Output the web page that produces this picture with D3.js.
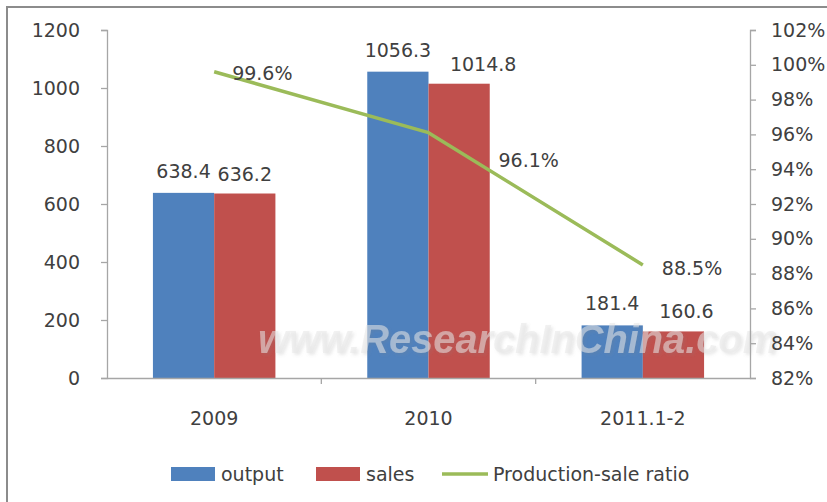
<!DOCTYPE html>
<html>
<head>
<meta charset="utf-8">
<script src="https://cdn.jsdelivr.net/npm/d3@7"></script>
<style>
  body { margin: 0; background: #fff; }
  text { font-family: "DejaVu Sans", sans-serif; fill: #404040; }
</style>
</head>
<body>
<script>
// chart values
var categories = ["2009", "2010", "2011.1-2"];
var output = [638.4, 1056.3, 181.4];
var sales = [636.2, 1014.8, 160.6];
var ratio = [99.6, 96.1, 88.5];
var leftTicks = [0, 200, 400, 600, 800, 1000, 1200];
var rightTicks = [82, 84, 86, 88, 90, 92, 94, 96, 98, 100, 102];
var seriesNames = ["output", "sales", "Production-sale ratio"];

var W = 827, H = 502;
var plot = {left: 107, right: 750, top: 30, bottom: 378};
var blue = "#4F81BD", red = "#C0504D", green = "#9BBB59", axisCol = "#a6a6a6";

var svg = d3.select("body").append("svg")
    .attr("width", W)
    .attr("height", H);

// outer frame
svg.append("rect")
    .attr("x", 7).attr("y", 7)
    .attr("width", 840).attr("height", 520)
    .attr("fill", "#fff")
    .attr("stroke", "#8c8c8c")
    .attr("stroke-width", 2);

// scales
var x = d3.scaleBand()
    .domain(categories)
    .range([plot.left, plot.right]);
var xSeries = d3.scaleBand()
    .domain(["output", "sales"])
    .range([0, x.bandwidth()])
    .paddingOuter(0.75)
    .paddingInner(0);
var y = d3.scaleLinear()
    .domain([0, 1200])
    .range([plot.bottom, plot.top]);
var y2 = d3.scaleLinear()
    .domain([82, 102])
    .range([plot.bottom, plot.top]);

// bars
var barData = [];
var salesLabelDx = [0, 24, 13];   // labels nudged right like the original
categories.forEach(function(c, i) {
  barData.push({cat: c, key: "output", v: output[i], color: blue, dx: 0, dy: -15});
  barData.push({cat: c, key: "sales", v: sales[i], color: red, dx: salesLabelDx[i], dy: -13});
});

svg.selectAll(".bar")
    .data(barData)
    .enter().append("rect")
    .attr("class", "bar")
    .attr("x", function(d) { return x(d.cat) + xSeries(d.key); })
    .attr("width", xSeries.bandwidth())
    .attr("y", function(d) { return y(d.v); })
    .attr("height", function(d) { return y(0) - y(d.v); })
    .attr("fill", function(d) { return d.color; });

svg.selectAll(".barLabel")
    .data(barData)
    .enter().append("text")
    .attr("class", "barLabel")
    .attr("x", function(d) { return x(d.cat) + xSeries(d.key) + xSeries.bandwidth() / 2 + d.dx; })
    .attr("y", function(d) { return y(d.v) + d.dy; })
    .attr("text-anchor", "middle")
    .style("font-size", "19px")
    .text(function(d) { return d.v.toFixed(1); });

// watermark
var defs = svg.append("defs");
var f = defs.append("filter").attr("id", "wm").attr("x", "-5%").attr("y", "-20%").attr("width", "110%").attr("height", "140%");
f.append("feDropShadow").attr("dx", 2).attr("dy", 2).attr("stdDeviation", 1.5)
    .attr("flood-color", "#808080").attr("flood-opacity", 0.3);
svg.append("text")
    .attr("x", 258).attr("y", 353)
    .attr("textLength", 520)
    .attr("lengthAdjust", "spacingAndGlyphs")
    .attr("filter", "url(#wm)")
    .style("font-family", "'Liberation Sans', Arial, sans-serif")
    .style("font-weight", "bold")
    .style("font-style", "italic")
    .style("font-size", "40px")
    .style("fill", "#e6e6e6")
    .style("fill-opacity", 0.55)
    .text("www.ResearchInChina.com");

// axes
var axisLeft = svg.append("g")
    .attr("transform", "translate(" + plot.left + ",0)")
    .call(d3.axisLeft(y).tickValues(leftTicks).tickSize(6).tickPadding(21)
      .tickFormat(d3.format("d")));
var axisRight = svg.append("g")
    .attr("transform", "translate(" + plot.right + ",0)")
    .call(d3.axisRight(y2).tickValues(rightTicks).tickSize(6).tickPadding(15)
      .tickFormat(function(d) { return d + "%"; }));
var axisBottom = svg.append("g")
    .attr("transform", "translate(0," + plot.bottom + ")")
    .call(d3.axisBottom(x).tickSize(0).tickPadding(34));

[axisLeft, axisRight, axisBottom].forEach(function(g) {
  g.select(".domain").attr("stroke", axisCol).attr("stroke-width", 1.3);
  g.selectAll(".tick line").attr("stroke", axisCol).attr("stroke-width", 1.3);
  g.selectAll(".tick text").style("font-size", "19px").style("font-family", "'DejaVu Sans', sans-serif").attr("fill", "#404040");
});
axisRight.selectAll(".tick text").attr("text-anchor", "start");

// category boundary ticks on x axis
svg.selectAll(".catTick")
    .data(categories.slice(1))
    .enter().append("line")
    .attr("x1", function(d) { return x(d); })
    .attr("x2", function(d) { return x(d); })
    .attr("y1", plot.bottom)
    .attr("y2", plot.bottom + 6)
    .attr("stroke", axisCol)
    .attr("stroke-width", 1.3);

// ratio line
var line = d3.line()
    .x(function(d, i) { return x(categories[i]) + x.bandwidth() / 2; })
    .y(function(d) { return y2(d); });
svg.append("path")
    .datum(ratio)
    .attr("d", line)
    .attr("fill", "none")
    .attr("stroke", green)
    .attr("stroke-width", 3.5)
    .attr("stroke-linejoin", "round");

var ratioLabelOffset = [[18, 2], [70, 28], [19, 3]];
svg.selectAll(".ratioLabel")
    .data(ratio)
    .enter().append("text")
    .attr("class", "ratioLabel")
    .attr("x", function(d, i) { return x(categories[i]) + x.bandwidth() / 2 + ratioLabelOffset[i][0]; })
    .attr("y", function(d, i) { return y2(d) + ratioLabelOffset[i][1]; })
    .attr("dy", "0.35em")
    .style("font-size", "19px")
    .text(function(d) { return d.toFixed(1) + "%"; });

// legend
var legend = svg.append("g");
var legendX = [171, 316, 442];
var legendY = 474;
seriesNames.forEach(function(name, i) {
  if (i < 2) {
    legend.append("rect")
        .attr("x", legendX[i]).attr("y", legendY - 7)
        .attr("width", 44).attr("height", 14)
        .attr("fill", i === 0 ? blue : red);
  } else {
    legend.append("line")
        .attr("x1", legendX[i]).attr("x2", legendX[i] + 46)
        .attr("y1", legendY).attr("y2", legendY)
        .attr("stroke", green).attr("stroke-width", 3.5);
  }
  legend.append("text")
      .attr("x", legendX[i] + (i < 2 ? 50 : 51))
      .attr("y", legendY)
      .attr("dy", "0.35em")
      .style("font-size", "19px")
      .text(name);
});
</script>
</body>
</html>
